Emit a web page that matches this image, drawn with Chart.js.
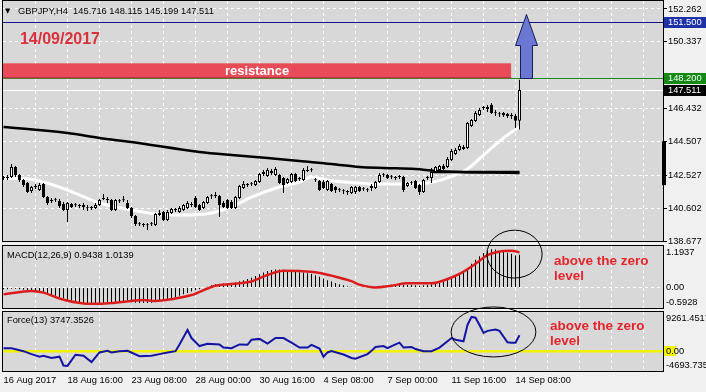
<!DOCTYPE html>
<html><head><meta charset="utf-8">
<script src="https://cdn.jsdelivr.net/npm/chart.js@4.4.1/dist/chart.umd.min.js"></script>
<style>
html,body{margin:0;padding:0;background:#f0f0f0;}
body{width:706px;height:392px;position:relative;overflow:hidden;}
canvas{position:absolute;left:0;top:0;}
</style></head><body>
<canvas id="mainC" width="706" height="392"></canvas>
<canvas id="macdC" width="706" height="392"></canvas>
<canvas id="forceC" width="706" height="392"></canvas>
<script>
// ---------------- data ----------------
const symbolTitle = 'GBPJPY,H4';
const xLabels = ['16 Aug 2017','18 Aug 16:00','23 Aug 08:00','28 Aug 00:00','30 Aug 16:00','4 Sep 08:00','7 Sep 00:00','11 Sep 16:00','14 Sep 08:00'];
const labelBars = [0,16,32,48,64,80,96,112,128];
const gridBars = [0,8,16,24,32,40,48,56,64,72,80,88,96,104,112,120,128,136,144,152,160];

const openP = [142.42,142.37,142.42,143.01,142.54,142.25,142.07,141.60,141.84,141.66,
142.01,141.25,141.02,141.08,141.02,140.84,140.49,140.84,140.78,140.73,
140.78,140.61,140.61,140.61,140.78,141.14,141.08,141.08,140.49,141.02,
141.08,140.90,140.61,140.14,139.67,139.61,139.61,139.67,139.61,140.20,
140.37,139.91,140.32,140.49,140.37,140.49,140.61,140.78,141.19,140.78,
140.61,140.90,141.31,141.31,141.31,140.90,141.08,140.96,140.61,141.19,
141.78,141.96,142.01,141.96,142.13,142.60,142.48,142.78,142.54,142.54,
142.37,142.07,142.13,142.60,142.31,142.25,142.78,142.83,142.25,142.19,
142.13,141.66,142.01,141.84,141.66,141.60,141.55,141.49,141.55,141.84,
141.72,141.66,141.78,141.78,142.13,142.54,142.54,142.42,142.37,142.42,
142.42,141.90,142.07,142.19,141.96,141.55,142.37,142.37,142.72,142.83,
143.07,143.01,143.42,143.77,144.00,144.06,144.12,145.41,145.70,146.05,
146.46,146.41,146.64,146.17,146.11,146.17,146.11,146.00,146.00,145.716];
const highP = [142.48,142.54,143.19,143.07,142.60,142.31,142.13,141.90,142.01,142.07,
142.07,141.31,141.19,141.19,141.14,140.96,140.96,140.90,140.90,140.84,
140.90,140.78,140.73,140.90,141.14,141.43,141.25,141.14,141.14,141.14,
141.31,141.08,140.67,140.20,139.79,139.73,139.73,139.79,140.32,140.49,
140.43,140.49,140.61,140.61,140.73,140.84,141.02,140.96,141.31,140.84,
141.02,141.31,141.43,141.55,141.37,141.02,141.14,141.08,141.31,141.96,
142.19,142.07,142.13,142.25,142.66,142.83,142.95,142.89,143.01,142.60,
142.42,142.37,142.66,142.66,142.42,142.95,143.07,142.95,142.37,142.25,
142.25,142.25,142.07,141.90,141.78,141.72,141.66,141.90,141.90,141.90,
141.84,141.78,142.01,142.19,142.66,142.66,142.60,142.54,142.48,142.54,
142.48,142.13,142.19,142.25,142.01,142.31,142.48,142.95,143.07,143.13,
143.19,143.60,144.06,144.12,144.36,144.30,145.64,145.82,146.29,146.46,
146.58,146.64,146.76,146.35,146.23,146.23,146.17,146.17,146.11,148.115];
const lowP = [142.25,142.25,142.37,142.42,142.13,141.84,141.49,141.49,141.72,141.60,
141.19,140.78,140.90,140.96,140.61,140.43,139.79,140.61,140.67,140.61,
140.49,140.43,140.49,140.55,140.73,141.08,140.90,140.43,140.43,140.90,
140.96,140.55,140.02,139.55,139.55,139.50,139.32,139.55,139.55,140.14,
139.85,139.85,140.26,140.37,140.32,140.43,140.55,140.67,140.61,140.43,
140.55,140.84,141.14,141.19,140.08,140.61,140.55,140.55,140.55,141.14,
141.72,141.84,141.90,141.90,142.07,142.48,142.42,142.54,142.48,142.01,
141.49,142.01,142.07,142.13,142.19,142.19,142.72,142.72,142.13,141.60,
141.72,141.60,141.55,141.49,141.55,141.43,141.37,141.43,141.43,141.55,
141.60,141.55,141.60,141.72,142.07,142.42,142.31,142.31,142.25,142.31,
141.55,141.84,141.96,141.72,141.37,141.49,142.25,142.07,142.66,142.78,
142.83,142.95,143.36,143.71,143.95,144.00,144.06,145.35,145.64,146.00,
146.35,146.23,146.11,146.00,145.94,145.94,145.88,145.82,145.29,145.199];
const closeP = [142.37,142.42,143.01,142.54,142.25,141.96,141.55,141.84,141.90,141.96,
141.25,140.90,141.08,141.06,140.73,140.49,140.90,140.67,140.77,140.72,
140.67,140.60,140.62,140.78,141.08,141.19,141.10,140.49,141.08,141.01,
141.07,140.61,140.14,139.67,139.66,139.62,139.60,139.66,140.26,140.32,
139.91,140.37,140.55,140.50,140.61,140.78,140.90,140.79,140.67,140.49,
140.96,141.25,141.30,141.37,140.78,140.67,140.61,140.61,141.25,141.90,
142.01,141.95,142.00,142.19,142.60,142.72,142.83,142.66,142.89,142.07,
141.96,142.31,142.60,142.19,142.30,142.83,142.83,142.82,142.24,141.66,
141.78,142.19,141.60,141.66,141.65,141.59,141.54,141.84,141.86,141.60,
141.71,141.65,141.90,142.13,142.54,142.53,142.37,142.41,142.36,142.43,
141.66,142.07,142.06,141.78,141.55,142.25,142.36,142.72,143.01,143.07,
142.89,143.48,143.95,144.00,144.24,144.18,145.59,145.76,146.17,146.35,
146.47,146.52,146.17,146.16,146.10,146.05,146.00,145.99,145.72,147.511];

const slowMaBars = [0,16,24,32,49,57,66,74,82,89,95,103,108,129];
const slowMaVals = [145.35,145.00,144.71,144.47,143.89,143.71,143.54,143.36,143.19,143.01,142.95,142.89,142.78,142.66];
const fastMaBars = [0,8,16,24,32,38,45,52,57,62,69,74,77,81,85,89,93,99,106,111,116,120,125,129];
const fastMaVals = [142.37,142.25,141.66,140.90,140.49,140.26,140.20,140.32,140.67,141.25,141.84,142.13,142.42,142.25,142.13,142.07,142.01,142.01,142.07,142.37,142.89,143.71,144.71,145.35];
const supportBars = [107.4,129];
const supportVals = [142.72,142.72];

const macdHist = [-0.05,-0.05,-0.04,-0.04,-0.05,-0.07,-0.09,-0.10,-0.10,-0.11,
-0.13,-0.17,-0.21,-0.24,-0.28,-0.32,-0.36,-0.38,-0.40,-0.42,
-0.44,-0.45,-0.46,-0.45,-0.44,-0.44,-0.43,-0.44,-0.43,-0.42,
-0.42,-0.42,-0.43,-0.44,-0.45,-0.45,-0.45,-0.44,-0.42,-0.40,
-0.38,-0.35,-0.32,-0.28,-0.24,-0.20,-0.16,-0.12,-0.08,-0.05,
-0.02,0.02,0.06,0.09,0.10,0.11,0.12,0.13,0.15,0.18,
0.21,0.24,0.28,0.33,0.38,0.43,0.47,0.50,0.52,0.52,
0.51,0.50,0.48,0.46,0.44,0.43,0.41,0.39,0.35,0.31,
0.26,0.21,0.17,0.13,0.09,0.06,0.03,0.02,0.01,0.00,
-0.01,-0.02,-0.02,-0.01,0.02,0.05,0.07,0.08,0.09,0.10,
0.08,0.07,0.07,0.06,0.05,0.06,0.07,0.09,0.12,0.14,
0.17,0.21,0.26,0.32,0.38,0.44,0.56,0.68,0.80,0.90,
0.99,1.06,1.10,1.09,1.06,1.03,1.00,0.97,0.92,0.9438];
const macdSignalBars = [0,7,10,14,20,24,28,32,35,38,42,47,51,53,57,62,66,70,74,78,82,87,89,93,97,101,107,110,114,118,121,125,127,129];
const macdSignalVals = [-0.20,-0.10,-0.15,-0.32,-0.46,-0.47,-0.44,-0.39,-0.36,-0.39,-0.34,-0.22,-0.03,0.05,0.10,0.17,0.36,0.48,0.47,0.44,0.34,0.18,0.08,0.00,0.05,0.12,0.12,0.20,0.39,0.68,0.93,1.05,1.06,1.0139];

const forceBars = [0,2,5,7,9,10,12,14,15,16,18,20,22,24,26,27,29,31,34,37,39,41,43,44,46,47,49,51,54,55,57,59,61,62,64,66,68,70,72,74,76,77,79,80,81,82,85,87,88,91,92,93,95,96,98,99,100,102,103,105,107,109,111,112,113,115,116,117,118,119,120,121,123,124,126,127,128,129];
const forceVals = [700,700,0,-700,-1300,-1100,-1600,-1300,-3400,-3500,-850,-1100,-2600,-300,70,-300,0,70,-1200,-1100,-700,-300,0,1600,5000,3100,1200,1750,1600,850,700,1600,1500,2700,2900,1800,3100,3100,2000,850,850,1500,600,-1300,-300,0,-800,-1600,-1800,-700,70,1000,1200,700,1600,2000,850,1000,500,0,0,850,2350,3100,2700,2350,6200,8100,7900,6200,4300,4800,5100,4800,2100,2000,2000,3747];

const priceTicks = [138.677,140.602,142.527,144.507,146.432,150.337,152.262];
const priceRange = [138.677,152.728];
const macdRange = [-0.5928,1.1937];
const macdTickVals = [1.1937,0,-0.5928];
const macdTickText = ['1.1937','0.00','-0.5928'];
const forceRange = [-4693.735,9261.4517];
const forceTickVals = [9261.4517,0,-4693.735];
const forceTickText = ['9261.4517','0.00','-4693.735'];
const macdLast = [0.9438,1.0139];
const forceLast = 3747.3526;

const levelTarget = 151.5, levelBreak = 148.2, bidPrice = 147.511;
const resistanceZone = [148.2,149.08];
const resistanceEndBar = 126.9;
const arrowSpec = {bar:130.55, base:148.2, neck:150.15, tip:151.97, shaft:1.5, head:2.75};
const dateNote = {text:'14/09/2017', bar:4.1, price:150.44};
const axisMarker = [141.95,144.51];
const noteLines = ['above the zero','level'];
const macdEllipse = {bar:127.75, val:0.96, rBars:6.9, rVal:0.69};
const forceEllipse = {bar:122.5, val:4541, rBars:10.6, rVal:5913};
const macdNote = {bar:137.6, val:0.76};
const forceNote = {bar:136.6, val:5960};

// ---------------- style ----------------
const X_MIN = -0.125, X_MAX = 164.875;
const BG_IN = '#d8d8d8';
const FONT = '"Liberation Sans", Arial, sans-serif';
const SMALL = '9.3px ' + FONT;
const RED_TXT = '#e3262c';

function xScale(showLabels) {
  return {
    type:'linear', min:X_MIN, max:X_MAX, offset:false,
    afterBuildTicks: s => { s.ticks = gridBars.map(v => ({value:v})); },
    afterFit: s => { s.height = showLabels ? 21 : 0; s.paddingLeft = 0; s.paddingRight = 0; },
    grid:{ offset:false, drawTicks:false, lineWidth:1, color: c => (c.tick && c.tick.value === 0) ? 'rgba(0,0,0,0)' : '#ffffff' },
    border:{ display:false, dash:[3,3] },
    ticks: showLabels ? {
      display:true, autoSkip:false, maxRotation:0, minRotation:0, align:'start', padding:4,
      color:'#000', font:{family:FONT, size:9.3},
      callback: v => { const k = labelBars.indexOf(v); return k >= 0 ? xLabels[k] : ''; }
    } : { display:false }
  };
}
function fillBg(c){ const {ctx, chartArea:a} = c; ctx.save(); ctx.fillStyle = BG_IN; ctx.fillRect(a.left, a.top, a.right-a.left, a.bottom-a.top); ctx.restore(); }
function frame(c){ const {ctx, chartArea:a} = c; ctx.save(); ctx.strokeStyle = '#000'; ctx.lineWidth = 1; ctx.strokeRect(a.left-0.5, a.top-0.5, a.right-a.left+1, a.bottom-a.top+1); ctx.restore(); }
function txt(ctx, s, x, y, font, color, align){ ctx.font = font; ctx.fillStyle = color; ctx.textAlign = align || 'left'; ctx.textBaseline = 'middle'; ctx.fillText(s, x, y); }
function sideLabels(c, vals, texts, highlightZero){
  const {ctx, chartArea:a, scales:{y}} = c;
  ctx.save();
  vals.forEach((v,k) => {
    let py = y.getPixelForValue(v);
    py = Math.min(Math.max(py, a.top+6), a.bottom-6);
    const ry = Math.round(py) + 0.5;
    if (highlightZero && v === 0) { ctx.fillStyle = '#f2f200'; ctx.fillRect(a.right + 1, ry-5.5, 12, 10); }
    txt(ctx, texts[k], a.right+3, py, SMALL, '#000');
  });
  ctx.restore();
}
function ellipse(c, e){
  const {ctx, scales:{x, y}} = c;
  const cx = x.getPixelForValue(e.bar), cy = y.getPixelForValue(e.val);
  const rx = Math.abs(x.getPixelForValue(e.bar + e.rBars) - cx);
  const ry = Math.abs(y.getPixelForValue(e.val + e.rVal) - cy);
  ctx.save(); ctx.strokeStyle = '#000'; ctx.lineWidth = 1; ctx.beginPath(); ctx.ellipse(cx, cy, rx, ry, 0, 0, Math.PI*2); ctx.stroke(); ctx.restore();
}
function note(c, n){
  const {ctx, scales:{x, y}} = c;
  const px = x.getPixelForValue(n.bar), py = y.getPixelForValue(n.val);
  ctx.save();
  noteLines.forEach((s,k) => txt(ctx, s, px, py + k*15, 'bold 13.5px ' + FONT, RED_TXT));
  ctx.restore();
}
const baseOpts = {
  responsive:false, animation:false, devicePixelRatio:1, events:[],
  plugins:{ legend:{display:false}, tooltip:{enabled:false} }
};

// ---------------- main price chart ----------------
const idx = openP.map((_,i) => i);
const mainPlugin = {
  id:'mainDeco',
  beforeDraw: c => fillBg(c),
  beforeDatasetsDraw(c){
    const {ctx, chartArea:a, scales:{y}} = c;
    ctx.save();
    const hl = (p, col) => { const py = Math.round(y.getPixelForValue(p)) + 0.5; ctx.strokeStyle = col; ctx.lineWidth = 1; ctx.beginPath(); ctx.moveTo(a.left, py); ctx.lineTo(a.right, py); ctx.stroke(); };
    hl(levelTarget, '#12128a');
    hl(bidPrice, '#ffffff');
    hl(levelBreak, '#1a8c1a');
    ctx.restore();
  },
  afterDatasetsDraw(c){
    const {ctx, chartArea:a, scales:{x, y}} = c;
    ctx.save();
    ctx.beginPath(); ctx.rect(a.left, a.top, a.right-a.left, a.bottom-a.top); ctx.clip();
    const rx2 = x.getPixelForValue(resistanceEndBar);
    const ry1 = y.getPixelForValue(resistanceZone[1]), ry2 = y.getPixelForValue(resistanceZone[0]);
    ctx.fillStyle = '#e84c58'; ctx.fillRect(a.left, ry1, rx2 - a.left, ry2 - ry1);
    ctx.strokeStyle = '#b83444'; ctx.beginPath(); ctx.moveTo(a.left, Math.round(ry2)-0.5); ctx.lineTo(rx2, Math.round(ry2)-0.5); ctx.stroke();
    txt(ctx, 'resistance', (a.left + rx2)/2, (ry1 + ry2)/2 + 1, 'bold 13px ' + FONT, '#ffffff', 'center');
    const A = arrowSpec;
    const pts = [[A.bar, A.tip],[A.bar + A.head, A.neck],[A.bar + A.shaft, A.neck],[A.bar + A.shaft, A.base],
                 [A.bar - A.shaft, A.base],[A.bar - A.shaft, A.neck],[A.bar - A.head, A.neck]];
    ctx.beginPath();
    pts.forEach((p,k) => { const px = Math.round(x.getPixelForValue(p[0])) + 0.5, py = Math.round(y.getPixelForValue(p[1])) + 0.5; k ? ctx.lineTo(px, py) : ctx.moveTo(px, py); });
    ctx.closePath(); ctx.fillStyle = '#6a78d2'; ctx.fill(); ctx.strokeStyle = '#1c1c5a'; ctx.lineWidth = 1; ctx.stroke();
    txt(ctx, dateNote.text, x.getPixelForValue(dateNote.bar), y.getPixelForValue(dateNote.price), 'bold 16px ' + FONT, '#d9323c');
    ctx.restore();
  },
  afterDraw(c){
    const {ctx, chartArea:a, scales:{y}} = c;
    frame(c);
    ctx.save();
    const m1 = y.getPixelForValue(axisMarker[1]), m2 = y.getPixelForValue(axisMarker[0]);
    ctx.fillStyle = '#000'; ctx.fillRect(a.right - 1, m1, 4, m2 - m1);
    [[levelTarget, '#1e32a8'], [levelBreak, '#138a13'], [bidPrice, '#000000']].forEach(([p, bg]) => {
      const py = Math.round(y.getPixelForValue(p));
      ctx.fillStyle = bg; ctx.fillRect(a.right + 1, py - 5, 706 - a.right - 1, 11);
      txt(ctx, p.toFixed(3), a.right + 5, py + 0.5, SMALL, '#ffffff');
    });
    txt(ctx, '\u25BC', 5, 11, '7px "DejaVu Sans", sans-serif', '#000');
    const L = openP.length - 1;
    txt(ctx, symbolTitle + '  ' + [openP[L], highP[L], lowP[L], closeP[L]].map(v => v.toFixed(3)).join(' '), 18, 11, SMALL, '#000');
    ctx.restore();
  }
};
const mainChart = new Chart(document.getElementById('mainC'), {
  type:'bar',
  data:{ datasets:[
    { label:'body', order:0, data: idx.map(i => ({x:i, y:[openP[i], closeP[i]]})), barThickness:3, grouped:false,
      backgroundColor: idx.map(i => closeP[i] >= openP[i] ? '#ffffff' : '#000000'), borderColor:'#000', borderWidth:1,
      borderSkipped:false, inflateAmount:0, minBarLength:1 },
    { label:'wick', order:1, data: idx.map(i => ({x:i, y:[lowP[i], highP[i]]})), barThickness:1, grouped:false,
      backgroundColor:'#000', borderWidth:0, inflateAmount:0, minBarLength:1 },
    { type:'line', label:'support', order:2, data: supportBars.map((b,k) => ({x:b, y:supportVals[k]})), borderColor:'#000', borderWidth:2.5, pointRadius:0 },
    { type:'line', label:'slowMA', order:3, data: slowMaBars.map((b,k) => ({x:b, y:slowMaVals[k]})), borderColor:'#000', borderWidth:2.5, pointRadius:0, cubicInterpolationMode:'monotone' },
    { type:'line', label:'fastMA', order:4, data: fastMaBars.map((b,k) => ({x:b, y:fastMaVals[k]})), borderColor:'#ffffff', borderWidth:3, pointRadius:0, cubicInterpolationMode:'monotone' }
  ]},
  options: Object.assign({}, baseOpts, {
    layout:{ padding:{ left:3, right:0, top:1, bottom:151 } },
    scales:{
      x: xScale(false),
      y: { type:'linear', position:'right', min:priceRange[0], max:priceRange[1],
        afterBuildTicks: s => { s.ticks = priceTicks.map(v => ({value:v})); },
        afterFit: s => { s.width = 43; s.paddingTop = 0; s.paddingBottom = 0; },
        grid:{ color:'#ffffff', drawTicks:true, tickLength:4, tickColor:'#000', tickBorderDash:[], lineWidth:1 },
        border:{ display:false, dash:[3,3] },
        ticks:{ color:'#000', padding:1, font:{family:FONT, size:9.3}, callback: v => v.toFixed(3) } }
    }
  }),
  plugins:[mainPlugin]
});

// ---------------- MACD ----------------
const macdPlugin = {
  id:'macdDeco',
  beforeDraw: c => fillBg(c),
  afterDraw(c){
    frame(c);
    sideLabels(c, macdTickVals, macdTickText, false);
    const {ctx} = c;
    ctx.save();
    txt(ctx, 'MACD(12,26,9) ' + macdLast[0].toFixed(4) + ' ' + macdLast[1].toFixed(4), 7, 255, SMALL, '#000');
    ctx.restore();
    ellipse(c, macdEllipse);
    note(c, macdNote);
  }
};
const macdChart = new Chart(document.getElementById('macdC'), {
  type:'bar',
  data:{ datasets:[
    { type:'line', label:'signal', order:0, data: macdSignalBars.map((b,k) => ({x:b, y:macdSignalVals[k]})), borderColor:'#dc1c1c', borderWidth:2.5, pointRadius:0, cubicInterpolationMode:'monotone' },
    { label:'macd', order:1, data: macdHist.map((v,i) => ({x:i, y:v})), barThickness:1, grouped:false, backgroundColor:'#000', borderWidth:0, inflateAmount:0 }
  ]},
  options: Object.assign({}, baseOpts, {
    layout:{ padding:{ left:3, right:0, top:246, bottom:84 } },
    scales:{
      x: xScale(false),
      y: { type:'linear', position:'right', min:macdRange[0], max:macdRange[1],
        afterBuildTicks: s => { s.ticks = [{value:0}]; },
        afterFit: s => { s.width = 43; s.paddingTop = 0; s.paddingBottom = 0; },
        grid:{ color:'#ffffff', drawTicks:false, lineWidth:1 },
        border:{ display:false, dash:[3,3] },
        ticks:{ display:false } }
    }
  }),
  plugins:[macdPlugin]
});

// ---------------- Force ----------------
const forcePlugin = {
  id:'forceDeco',
  beforeDraw: c => fillBg(c),
  beforeDatasetsDraw(c){
    const {ctx, chartArea:a, scales:{y}} = c;
    const py = y.getPixelForValue(0);
    ctx.save(); ctx.strokeStyle = '#f2f200'; ctx.lineWidth = 2.5; ctx.beginPath(); ctx.moveTo(a.left, py); ctx.lineTo(a.right, py); ctx.stroke(); ctx.restore();
  },
  afterDraw(c){
    frame(c);
    sideLabels(c, forceTickVals, forceTickText, true);
    const {ctx} = c;
    ctx.save();
    txt(ctx, 'Force(13) ' + forceLast.toFixed(4), 7, 320, SMALL, '#000');
    ctx.restore();
    ellipse(c, forceEllipse);
    note(c, forceNote);
  }
};
const forceChart = new Chart(document.getElementById('forceC'), {
  type:'line',
  data:{ datasets:[
    { label:'force', data: forceBars.map((b,k) => ({x:b, y:forceVals[k]})), borderColor:'#1414a4', borderWidth:2, pointRadius:0, tension:0 }
  ]},
  options: Object.assign({}, baseOpts, {
    layout:{ padding:{ left:3, right:0, top:312, bottom:0 } },
    scales:{
      x: xScale(true),
      y: { type:'linear', position:'right', min:forceRange[0], max:forceRange[1],
        afterBuildTicks: s => { s.ticks = [{value:0}]; },
        afterFit: s => { s.width = 43; s.paddingTop = 0; s.paddingBottom = 0; },
        grid:{ color:'rgba(0,0,0,0)', drawTicks:false },
        border:{ display:false },
        ticks:{ display:false } }
    }
  }),
  plugins:[forcePlugin]
});
</script></body></html>
